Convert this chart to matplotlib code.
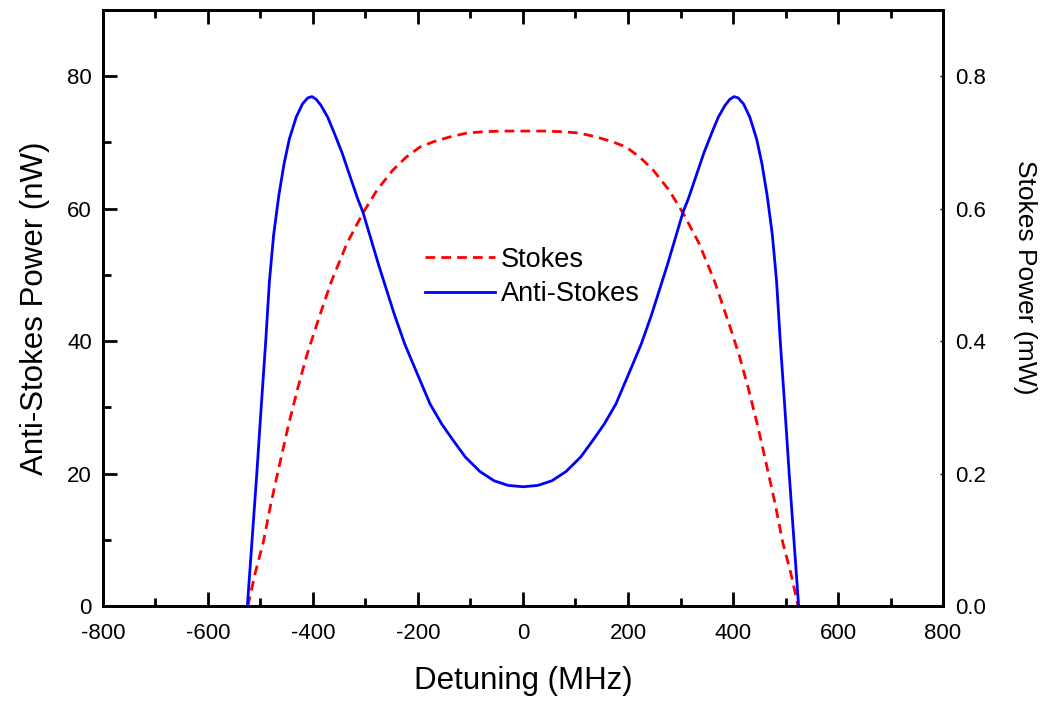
import matplotlib
matplotlib.use("Agg")
import matplotlib.pyplot as plt
from matplotlib.ticker import MultipleLocator, FormatStrFormatter

plt.rcParams['font.family'] = ['Liberation Sans', 'DejaVu Sans']
plt.rcParams['axes.unicode_minus'] = False

# Anti-Stokes (nW) vs detuning (MHz)
as_x = [-525, -516, -507, -499, -490, -483, -475, -465, -455, -445, -432, -420, -410, -402, -394, -385, -372,
        -360, -345, -330, -315, -305, -290, -275, -263, -245, -225, -200, -177, -155, -133, -110, -82, -55, -28, 0,
        28, 55, 82, 110, 133, 155, 177, 200, 225, 245, 263, 275, 290, 305, 315, 330, 345, 360,
        372, 385, 394, 402, 410, 420, 432, 445, 455, 465, 475, 483, 490, 499, 507, 516, 525]
as_y = [0, 10, 20, 29.6, 40, 49, 56, 62, 66.8, 70.5, 73.8, 75.8, 76.7, 76.9, 76.5, 75.6, 73.8,
        71.5, 68.5, 65, 61.5, 59.5, 55.5, 51.5, 48.5, 44, 39.5, 34.8, 30.5, 27.5, 25, 22.5, 20.3, 18.9, 18.2, 18.0,
        18.2, 18.9, 20.3, 22.5, 25, 27.5, 30.5, 34.8, 39.5, 44, 48.5, 51.5, 55.5, 59.5, 61.5, 65, 68.5, 71.5,
        73.8, 75.6, 76.5, 76.9, 76.7, 75.8, 73.8, 70.5, 66.8, 62, 56, 49, 40, 29.6, 20, 10, 0]

# Stokes (mW) vs detuning (MHz)
st_x = [-524, -510, -495, -480, -463, -447, -430, -412, -392, -365, -335, -305, -278, -248, -222, -196, -170,
        -140, -107, -75, -40, 0, 40, 75, 107, 140, 170, 196, 222, 248, 278, 305, 335, 365, 392, 412, 430,
        447, 463, 480, 495, 510, 524]
st_y = [0, 0.05, 0.095, 0.155, 0.216, 0.272, 0.326, 0.378, 0.427, 0.49, 0.548, 0.593, 0.628, 0.658, 0.678, 0.693, 0.701,
        0.708, 0.714, 0.716, 0.717, 0.717, 0.717, 0.716, 0.714, 0.708, 0.701, 0.693, 0.678, 0.658, 0.628, 0.593, 0.548, 0.49, 0.427, 0.378, 0.326,
        0.272, 0.216, 0.155, 0.095, 0.05, 0]

fig = plt.figure(figsize=(10.54, 7.03), dpi=100)
ax = fig.add_axes([0.0977, 0.138, 0.797, 0.848])
ax2 = ax.twinx()

l2, = ax2.plot(st_x, st_y, color='#ff0000', lw=2.0, linestyle=(0, (3.5, 2.2)), label='Stokes')
l1, = ax.plot(as_x, as_y, color='#0000ff', lw=2.0, label='Anti-Stokes')
ax.set_zorder(ax2.get_zorder() + 1)
ax.patch.set_visible(False)

ax.set_xlim(-800, 800)
ax.set_ylim(0, 90)
ax2.set_ylim(0, 0.9)

ax.xaxis.set_major_locator(MultipleLocator(200))
ax.xaxis.set_minor_locator(MultipleLocator(100))
ax.yaxis.set_major_locator(MultipleLocator(20))
ax.yaxis.set_minor_locator(MultipleLocator(10))
ax2.yaxis.set_major_locator(MultipleLocator(0.2))
ax2.yaxis.set_minor_locator(MultipleLocator(0.1))
ax2.yaxis.set_major_formatter(FormatStrFormatter('%.1f'))

for a in (ax, ax2):
    for s in a.spines.values():
        s.set_linewidth(2.0)

ax.tick_params(axis='x', which='both', direction='in', top=True, labelsize=16, pad=12)
ax.tick_params(axis='x', which='major', length=10, width=2.0)
ax.tick_params(axis='x', which='minor', length=6, width=2.0)
ax.tick_params(axis='y', which='both', direction='in', right=False, labelsize=16, pad=8)
ax.tick_params(axis='y', which='major', length=10, width=2.0)
ax.tick_params(axis='y', which='minor', length=6, width=2.0)
ax2.tick_params(axis='y', which='both', direction='in', labelsize=16, pad=9)
ax2.tick_params(axis='y', which='major', length=2, width=1.0)
ax2.tick_params(axis='y', which='minor', length=1, width=1.0)

ax.set_xlabel('Detuning (MHz)', fontsize=22.5, labelpad=16)
ax.set_ylabel('Anti-Stokes Power (nW)', fontsize=22.5, labelpad=12)
ax2.set_ylabel('Stokes Power (mW)', fontsize=19, rotation=270, va='center', ha='center')
ax2.yaxis.set_label_coords(1.098, 0.552)

fig.legend(handles=[l2, l1], loc='center left', bbox_to_anchor=(0.403, 0.606),
           frameon=False, fontsize=19.5, handlelength=2.6, handletextpad=0.2,
           labelspacing=0.3, borderpad=0, borderaxespad=0)

fig.savefig('out.png', dpi=100)
